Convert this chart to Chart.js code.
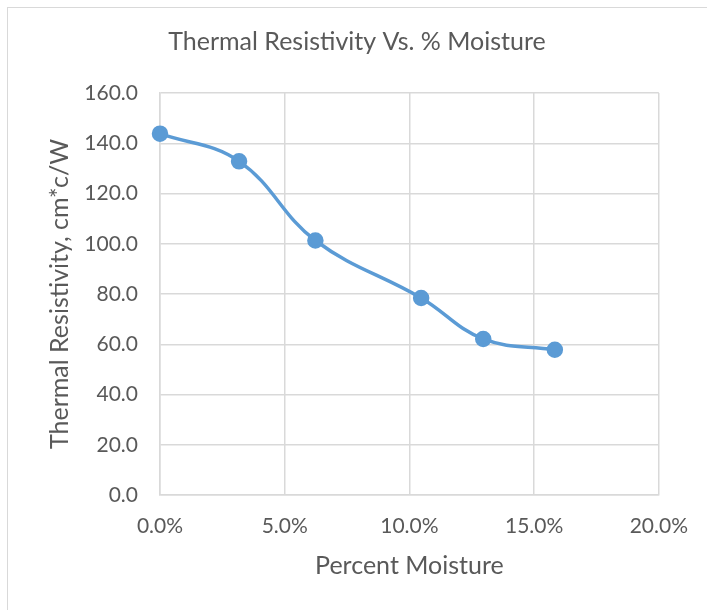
<!DOCTYPE html>
<html>
<head>
<meta charset="utf-8">
<script src="https://cdn.jsdelivr.net/npm/chart.js@4/dist/chart.umd.min.js"></script>
<style>
  html, body { margin: 0; padding: 0; background: #fff; overflow: hidden; }
  #frame { position: absolute; left: 7px; top: 7px; width: 760px; height: 660px; border: 1px solid #d9d9d9; }
  #chart { position: absolute; left: 0; top: 0; }
</style>
</head>
<body>
<div id="frame"></div>
<canvas id="chart" width="707" height="610"></canvas>
<script>
// percent moisture (%) and thermal resistivity (cm*c/W)
const moisture = [0.0, 3.17, 6.23, 10.47, 12.96, 15.83];
const resistivity = [143.8, 132.8, 101.3, 78.4, 62.1, 57.8];

const chartTitle = 'Thermal Resistivity Vs. % Moisture';
const xTitle = 'Percent Moisture';
const yTitle = 'Thermal Resistivity, cm*c/W';

const fontFamily = 'Lato, "Open Sans", sans-serif';
const textColor = '#595959';
const gridColor = '#d9d9d9';
const lineColor = '#5b9bd5';

const config = {
    type: 'scatter',
    data: {
        datasets: [{
            data: moisture.map((x, i) => ({ x: x, y: resistivity[i] })),
            showLine: true,
            borderColor: lineColor,
            backgroundColor: lineColor,
            borderWidth: 3.5,
            pointRadius: 6.5,
            pointHoverRadius: 6.5,
            tension: 0.4,
            clip: false,
        }]
    },
    options: {
        responsive: false,
        animation: false,
        layout: { padding: { left: 7, right: 0, top: 0, bottom: 0 } },
        plugins: {
            legend: { display: false },
            tooltip: { enabled: false },
            title: {
                display: true,
                text: chartTitle,
                color: textColor,
                font: { family: fontFamily, size: 25, weight: 'normal' },
                padding: { top: 27, bottom: 36 },
            },
        },
        scales: {
            x: {
                type: 'linear',
                min: 0,
                max: 20,
                ticks: {
                    stepSize: 5,
                    color: textColor,
                    font: { family: fontFamily, size: 21 },
                    padding: 19,
                    callback: (v) => v.toFixed(1) + '%',
                },
                grid: { color: gridColor, lineWidth: 1.5, drawTicks: false },
                border: { color: gridColor, width: 1.5 },
                title: {
                    display: true,
                    text: xTitle,
                    color: textColor,
                    font: { family: fontFamily, size: 25 },
                    padding: { top: 10, bottom: 29 },
                },
                afterFit: (scale) => { scale.height = 115; },
            },
            y: {
                min: 0,
                max: 160,
                ticks: {
                    stepSize: 20,
                    color: textColor,
                    font: { family: fontFamily, size: 21 },
                    padding: 22,
                    callback: (v) => v.toFixed(1),
                },
                grid: { color: gridColor, lineWidth: 1.5, drawTicks: false },
                border: { color: gridColor, width: 1.5 },
                title: {
                    display: true,
                    text: yTitle,
                    color: textColor,
                    font: { family: fontFamily, size: 25 },
                    padding: { top: 38, bottom: 0 },
                },
                afterFit: (scale) => { scale.width = 153; },
            },
            // empty right-hand margin so the title stays centred on the whole chart
            gap: {
                position: 'right',
                ticks: { display: false },
                grid: { display: false, drawTicks: false },
                border: { display: false },
                afterFit: (scale) => { scale.width = 45; },
            },
        },
    },
};

new Chart(document.getElementById('chart').getContext('2d'), config);
</script>
</body>
</html>
